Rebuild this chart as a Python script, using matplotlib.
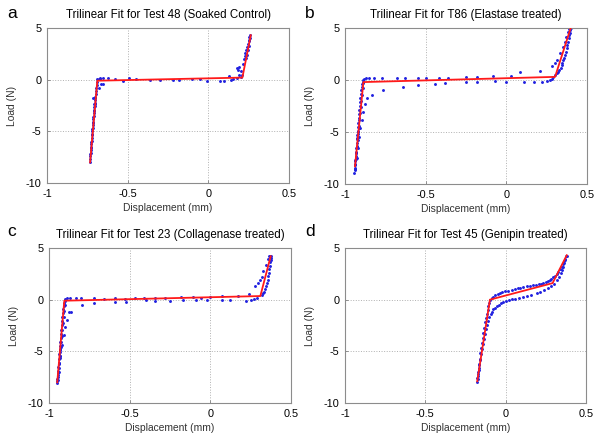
import matplotlib
matplotlib.use("Agg")
import matplotlib.pyplot as plt

plt.rcParams['font.family'] = ['Liberation Sans', 'DejaVu Sans']

# ---- data ----
titles = ['Trilinear Fit for Test 48 (Soaked Control)',
          'Trilinear Fit for T86 (Elastase treated)',
          'Trilinear Fit for Test 23 (Collagenase treated)',
          'Trilinear Fit for Test 45 (Genipin treated)']
letters = ['a', 'b', 'c', 'd']

# panel a
a_pts_x = [-0.734, -0.733, -0.731, -0.730, -0.728, -0.727, -0.726, -0.724, -0.722, -0.721,
           -0.719, -0.717, -0.716, -0.714, -0.712, -0.711, -0.709, -0.707, -0.706, -0.704,
           -0.702, -0.700, -0.699, -0.697, -0.695, -0.693, -0.691,
           -0.731, -0.728, -0.725, -0.722, -0.719, -0.716, -0.713, -0.710, -0.707, -0.704,
           -0.705, -0.700, -0.712, -0.676, -0.668, -0.690, -0.680, -0.672, -0.655,
           -0.67, -0.65, -0.62, -0.58, -0.53, -0.49, -0.45, -0.36, -0.30, -0.22, -0.18,
           -0.10, -0.05, -0.01, 0.07, 0.10, 0.13, 0.14, 0.15, 0.18,
           0.19, 0.185, 0.19, 0.205, 0.215, 0.22, 0.225, 0.23, 0.235, 0.24, 0.245, 0.25,
           0.255, 0.26, 0.232, 0.238, 0.244, 0.25, 0.255, 0.26, 0.20, 0.21, 0.18]
a_pts_y = [-8.0, -7.7, -7.4, -7.1, -6.8, -6.5, -6.2, -5.9, -5.6, -5.3,
           -5.0, -4.7, -4.4, -4.1, -3.8, -3.5, -3.2, -2.9, -2.6, -2.3,
           -2.0, -1.7, -1.4, -1.1, -0.8, -0.5, -0.2,
           -7.2, -6.6, -6.0, -5.4, -4.8, -4.2, -3.6, -3.0, -2.4, -1.8,
           -2.4, -2.5, -1.8, -0.8, -0.4, 0.05, 0.1, 0.12, -0.45,
           0.1, 0.12, 0.15, 0.1, -0.15, 0.12, 0.05, -0.05, 0.0, 0.0, -0.05,
           0.1, 0.1, -0.1, -0.1, -0.15, 0.35, -0.05, 0.05, 0.2,
           0.5, 0.9, 1.2, 0.8, 1.5, 2.0, 2.3, 2.6, 2.9, 3.2, 3.5, 3.8,
           4.1, 4.3, 2.1, 2.4, 2.9, 3.3, 3.7, 4.0, 0.3, 0.5, 1.1]
a_fit_x = [-0.733, -0.688, 0.211, 0.263]
a_fit_y = [-8.0, -0.1, 0.2, 4.3]

# panel b
b_pts_x = [-0.942, -0.940, -0.938, -0.936, -0.934, -0.932, -0.930, -0.928, -0.926, -0.924,
           -0.922, -0.920, -0.918, -0.916, -0.914, -0.912, -0.910, -0.907, -0.904, -0.901,
           -0.898, -0.895, -0.892, -0.889, -0.886, -0.883,
           -0.939, -0.935, -0.931, -0.927, -0.923, -0.919, -0.915, -0.911, -0.907, -0.903,
           -0.899, -0.895, -0.891, -0.887,
           -0.941, -0.937, -0.933, -0.929, -0.925, -0.921, -0.917, -0.913,
           -0.924, -0.918, -0.911, -0.904, -0.897, -0.890, -0.878, -0.866, -0.835, -0.766,
           -0.87, -0.85, -0.82, -0.77, -0.68, -0.63, -0.55, -0.50, -0.42, -0.36, -0.25,
           -0.18, -0.08, 0.03, 0.085, 0.209,
           -0.64, -0.55, -0.44, -0.38, -0.25, -0.18, -0.07, 0.0, 0.11, 0.17, 0.22, 0.25,
           0.27, 0.285,
           0.285, 0.302, 0.316, 0.333, 0.35, 0.364, 0.372, 0.38, 0.388,
           0.291, 0.312, 0.328, 0.343, 0.353, 0.364, 0.374, 0.384, 0.39, 0.395, 0.398,
           0.302, 0.320, 0.336, 0.348, 0.359, 0.369, 0.379, 0.387, 0.393]
b_pts_y = [-8.9, -8.5, -8.1, -7.7, -7.3, -6.9, -6.5, -6.1, -5.7, -5.3,
           -4.9, -4.5, -4.1, -3.7, -3.3, -2.9, -2.5, -2.1, -1.7, -1.3,
           -1.0, -0.7, -0.4, -0.2, 0.0, 0.1,
           -8.6, -7.8, -7.0, -6.3, -5.6, -5.0, -4.4, -3.8, -3.2, -2.6,
           -2.0, -1.4, -0.8, -0.3,
           -8.7, -8.2, -7.6, -7.0, -6.4, -5.8, -5.2, -4.6,
           -7.5, -6.5, -5.5, -4.6, -3.8, -3.1, -2.3, -1.7, -1.4, -0.97,
           0.16, 0.18, 0.16, 0.15, 0.16, 0.17, 0.15, 0.16, 0.18, 0.2, 0.25,
           0.3, 0.35, 0.4, 0.8, 0.87,
           -0.65, -0.5, -0.35, -0.3, -0.2, -0.15, -0.1, -0.15, -0.2, -0.2, -0.15, -0.1,
           0.0, 0.1,
           1.3, 1.67, 1.92, 2.56, 3.14, 3.68, 4.15, 4.6, 4.9,
           0.32, 0.64, 0.96, 1.44, 1.92, 2.4, 3.05, 3.68, 4.33, 4.8, 5.0,
           0.45, 0.80, 1.20, 1.68, 2.16, 2.72, 3.36, 4.0, 4.55]
b_fit_x = [-0.938, -0.886, 0.302, 0.399]
b_fit_y = [-8.3, -0.2, 0.3, 5.0]

# panel c
c_pts_x = [-0.950, -0.948, -0.946, -0.944, -0.942, -0.940, -0.938, -0.936, -0.934, -0.932,
           -0.930, -0.928, -0.926, -0.924, -0.922, -0.920, -0.918, -0.915, -0.912, -0.909,
           -0.906, -0.903, -0.900,
           -0.945, -0.941, -0.937, -0.933, -0.929, -0.925, -0.921, -0.917, -0.913, -0.909,
           -0.905, -0.901,
           -0.949, -0.946, -0.943, -0.940, -0.937, -0.934, -0.931, -0.928,
           -0.93, -0.92, -0.91, -0.90, -0.89, -0.875, -0.865, -0.797,
           -0.89, -0.87, -0.83, -0.80, -0.72, -0.66, -0.59, -0.53, -0.47, -0.41, -0.34,
           -0.28, -0.18, -0.11, -0.06, 0.0, 0.07, 0.17, 0.24,
           -0.72, -0.59, -0.52, -0.40, -0.34, -0.25, -0.17, -0.09, -0.02, 0.07, 0.12,
           0.22, 0.25, 0.27, 0.29,
           0.277, 0.298, 0.31, 0.319, 0.329, 0.343, 0.356, 0.366, 0.372,
           0.318, 0.33, 0.339, 0.35, 0.36, 0.366, 0.37, 0.376, 0.378,
           0.325, 0.344, 0.355, 0.363, 0.368, 0.373]
c_pts_y = [-8.1, -7.7, -7.3, -6.9, -6.5, -6.1, -5.7, -5.3, -4.9, -4.5,
           -4.1, -3.7, -3.3, -2.9, -2.5, -2.1, -1.7, -1.3, -0.9, -0.6,
           -0.3, -0.1, 0.1,
           -7.8, -7.0, -6.2, -5.5, -4.8, -4.1, -3.5, -2.9, -2.3, -1.7,
           -1.1, -0.5,
           -7.9, -7.5, -7.1, -6.6, -6.1, -5.6, -5.1, -4.6,
           -5.5, -4.4, -3.4, -2.6, -2.0, -1.2, -1.2, -0.55,
           0.15, 0.15, 0.2, 0.15, 0.15, 0.1, 0.15, 0.1, 0.15, 0.15, 0.2,
           0.2, 0.25, 0.25, 0.2, 0.3, 0.35, 0.4, 0.55,
           -0.35, -0.2, -0.25, -0.05, -0.1, -0.1, 0.0, 0.0, 0.0, -0.05, -0.05,
           -0.1, 0.0, 0.1, 0.15,
           1.32, 1.64, 1.9, 2.19, 2.77, 3.35, 3.9, 4.2, 4.25,
           0.45, 0.75, 1.0, 1.6, 2.3, 2.94, 3.6, 4.0, 4.2,
           0.6, 1.3, 1.95, 2.6, 3.25, 3.85]
c_fit_x = [-0.949, -0.905, 0.31, 0.374]
c_fit_y = [-8.0, -0.1, 0.35, 4.2]

# panel d
d_pts_x = [0.380, 0.372, 0.364, 0.356, 0.348, 0.338, 0.328, 0.318, 0.307, 0.296,
           0.285, 0.275, 0.265, 0.250, 0.235, 0.220, 0.205, 0.190, 0.170, 0.151,
           0.130, 0.110, 0.090, 0.078, 0.060, 0.040, 0.016, -0.005, -0.020, -0.035,
           -0.050, -0.065, -0.078, -0.087, -0.095, -0.102, -0.108, -0.113, -0.118, -0.123,
           -0.129, -0.134, -0.139, -0.144, -0.149, -0.153, -0.157, -0.161, -0.164, -0.167,
           -0.170, -0.173, -0.175, -0.177,
           -0.176, -0.172, -0.168, -0.163, -0.158, -0.152, -0.146, -0.140, -0.134, -0.127,
           -0.120, -0.114, -0.108, -0.101, -0.094, -0.086, -0.077, -0.067, -0.056, -0.043,
           -0.030, -0.015, 0.002, 0.020, 0.037, 0.060, 0.085, 0.110, 0.135, 0.160,
           0.193, 0.215, 0.240, 0.265, 0.285, 0.300, 0.317, 0.330, 0.342, 0.350,
           0.358, 0.365, 0.372, 0.378]
d_pts_y = [4.25, 3.95, 3.70, 3.45, 3.20, 2.95, 2.70, 2.50, 2.30, 2.15,
           2.00, 1.90, 1.80, 1.70, 1.60, 1.55, 1.50, 1.45, 1.40, 1.35,
           1.28, 1.20, 1.14, 1.10, 1.02, 0.95, 0.87, 0.80, 0.72, 0.65,
           0.55, 0.45, 0.30, 0.15, -0.05, -0.30, -0.60, -1.00, -1.40, -1.80,
           -2.20, -2.70, -3.20, -3.70, -4.20, -4.70, -5.20, -5.70, -6.20, -6.60,
           -7.00, -7.40, -7.70, -7.95,
           -7.60, -7.20, -6.80, -6.30, -5.80, -5.30, -4.80, -4.30, -3.80, -3.30,
           -2.85, -2.45, -2.05, -1.70, -1.40, -1.15, -0.95, -0.80, -0.65, -0.50,
           -0.37, -0.25, -0.12, -0.03, 0.03, 0.10, 0.18, 0.27, 0.37, 0.47,
           0.61, 0.75, 0.90, 1.10, 1.30, 1.55, 1.90, 2.20, 2.55, 2.85,
           3.15, 3.50, 3.85, 4.20]
d_fit_x = [-0.177, -0.098, 0.292, 0.38]
d_fit_y = [-7.9, 0.0, 1.6, 4.3]

pts = [(a_pts_x, a_pts_y), (b_pts_x, b_pts_y), (c_pts_x, c_pts_y), (d_pts_x, d_pts_y)]
fits = [(a_fit_x, a_fit_y), (b_fit_x, b_fit_y), (c_fit_x, c_fit_y), (d_fit_x, d_fit_y)]

# axes boxes in figure pixels (left, top, right, bottom)
W, H = 601, 442
boxes = [(47, 28, 289, 183), (345, 28, 587, 184), (49, 248, 291, 403), (345, 248, 586, 403)]
letter_pos = [(7, 14), (305, 14), (7, 232), (305, 232)]

fig = plt.figure(figsize=(W / 100, H / 100), dpi=100)
for i in range(4):
    l, t, r, b = boxes[i]
    ax = fig.add_axes([l / W, 1 - b / H, (r - l) / W, (b - t) / H])
    ax.plot(pts[i][0], pts[i][1], linestyle='none', marker='o', markersize=2.1,
            color='#2020e0', markeredgewidth=0, zorder=2)
    ax.plot(fits[i][0], fits[i][1], color='#ff1a1a', linewidth=1.3, zorder=3)
    ax.set_xlim(-1, 0.5)
    ax.set_ylim(-10, 5)
    ax.set_xticks([-1, -0.5, 0, 0.5])
    ax.set_xticklabels(['-1', '-0.5', '0', '0.5'])
    ax.set_yticks([-10, -5, 0, 5])
    ax.set_yticklabels(['-10', '-5', '0', '5'])
    ax.grid(True, linestyle=':', color='#b0b0b0', linewidth=0.7)
    ax.tick_params(direction='in', length=2.5, width=0.6, color='#808080',
                   labelsize=7.8, pad=4)
    for s in ax.spines.values():
        s.set_color('#8c8c8c')
        s.set_linewidth(0.8)
    ax.set_title(titles[i], fontsize=8.3, pad=7)
    ax.set_xlabel('Displacement (mm)', fontsize=7.4, labelpad=3, color='#333333')
    ax.set_ylabel('Load (N)', fontsize=7.4, labelpad=6, color='#333333')
    lx, ly = letter_pos[i]
    fig.text(lx / W, 1 - ly / H, letters[i], fontsize=12.5, va='center', ha='left')

fig.savefig('out.png', dpi=100)
